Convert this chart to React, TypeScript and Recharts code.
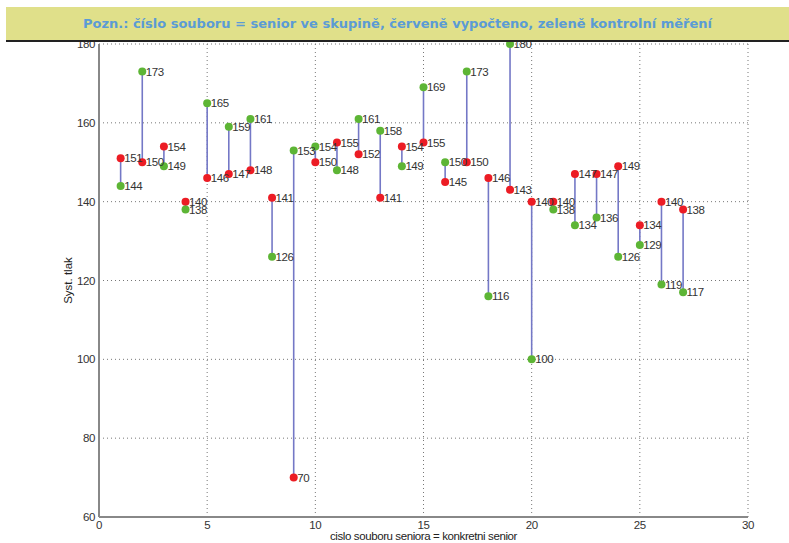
import React from "react";
import {
  ComposedChart,
  Scatter,
  XAxis,
  YAxis,
  CartesianGrid,
  LabelList,
  Label,
} from "recharts";

const seniors = [1, 2, 3, 4, 5, 6, 7, 8, 9, 10, 11, 12, 13, 14, 15, 16, 17, 18, 19, 20, 21, 22, 23, 24, 25, 26, 27];
const computed = [151, 150, 154, 140, 146, 147, 148, 141, 70, 150, 155, 152, 141, 154, 155, 145, 150, 146, 143, 140, 140, 147, 147, 149, 134, 140, 138];
const measured = [144, 173, 149, 138, 165, 159, 161, 126, 153, 154, 148, 161, 158, 149, 169, 150, 173, 116, 180, 100, 138, 134, 136, 126, 129, 119, 117];
const xTicks = [0, 5, 10, 15, 20, 25, 30];
const yTicks = [60, 80, 100, 120, 140, 160, 180];

const title = "Pozn.: číslo souboru = senior ve skupině, červeně vypočteno, zeleně kontrolní měření";
const xLabel = "cislo souboru seniora = konkretni senior";
const yLabel = "Syst. tlak";

const redData = seniors.map((s, i) => ({ x: s, y: computed[i] }));
const greenData = seniors.map((s, i) => ({ x: s, y: measured[i] }));
const segments = seniors.map((s, i) => [
  { x: s, y: computed[i] },
  { x: s, y: measured[i] },
]);

const FONT = "'Liberation Sans Narrow', 'Liberation Sans', Arial, sans-serif";
const labelStyle = { fill: "#333", fontSize: 11.5, fontFamily: FONT, letterSpacing: -0.4 };

const dot = (color: string) => (props: any) => (
  <circle cx={props.cx} cy={props.cy} r={4} fill={color} />
);
const noDot = () => <g />;

export default function App() {
  return (
    <div style={{ position: "absolute", left: 0, top: 0, width: 789, height: 543, background: "#fff" }}>
      <ComposedChart
        width={789}
        height={543}
        margin={{ top: 44, right: 41, bottom: 0, left: 54 }}
        style={{ fontFamily: FONT }}
      >
        <CartesianGrid stroke="#777" strokeDasharray="1 3" strokeWidth={1} />
        <XAxis
          type="number"
          dataKey="x"
          domain={[0, 30]}
          ticks={xTicks}
          interval={0}
          height={26}
          tickSize={3}
          tickMargin={1}
          tickLine={false}
          axisLine={{ stroke: "#888", strokeWidth: 2 }}
          tick={{ fill: "#333", fontSize: 11.5, fontFamily: FONT, letterSpacing: -0.4 }}
          allowDuplicatedCategory={false}
        >
          <Label value={xLabel} position="insideBottom" offset={3} style={{ fill: "#222", fontSize: 11.5, fontFamily: FONT, letterSpacing: -0.4 }} />
        </XAxis>
        <YAxis
          type="number"
          dataKey="y"
          domain={[60, 180]}
          ticks={yTicks}
          interval={0}
          width={45}
          tickSize={3}
          tickMargin={1}
          tickLine={false}
          axisLine={{ stroke: "#888", strokeWidth: 2 }}
          tick={{ fill: "#333", fontSize: 11.5, fontFamily: FONT, letterSpacing: -0.4 }}
        >
          <Label value={yLabel} angle={-90} position="insideLeft" offset={14} style={{ fill: "#222", fontSize: 11.5, fontFamily: FONT, textAnchor: "middle" }} />
        </YAxis>
        {segments.map((seg, i) => (
          <Scatter
            key={"seg" + i}
            data={seg}
            line={{ stroke: "#7478c6", strokeWidth: 1.6 }}
            shape={noDot}
            isAnimationActive={false}
          />
        ))}
        <Scatter data={redData} shape={dot("#ec1c24")} isAnimationActive={false}>
          <LabelList dataKey="y" position="right" offset={-1} style={labelStyle} />
        </Scatter>
        <Scatter data={greenData} shape={dot("#5db535")} isAnimationActive={false}>
          <LabelList dataKey="y" position="right" offset={-1} style={labelStyle} />
        </Scatter>
      </ComposedChart>
      <div
        style={{
          position: "absolute",
          left: 6,
          top: 7,
          width: 783,
          height: 33,
          background: "#e0e08a",
          borderBottom: "2px solid #222",
          color: "#5b9bd5",
          fontFamily: "'DejaVu Sans', sans-serif",
          fontWeight: "bold",
          fontSize: 13,
          lineHeight: "33px",
          textAlign: "center",
          boxSizing: "content-box",
        }}
      >
        {title}
      </div>
    </div>
  );
}
